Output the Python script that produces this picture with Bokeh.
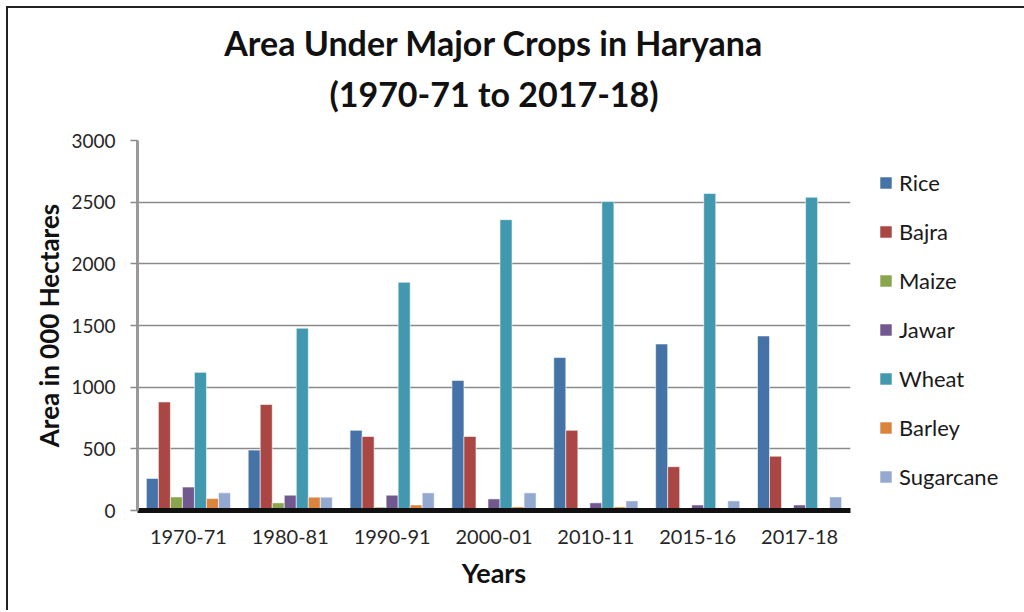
from bokeh.plotting import figure
from bokeh.models import FactorRange, Range1d, Title, Legend, LegendItem, ColumnDataSource
from bokeh.transform import dodge
from bokeh.embed import file_html
from bokeh.resources import INLINE

years = ["1970-71", "1980-81", "1990-91", "2000-01", "2010-11", "2015-16", "2017-18"]
crops = ["Rice", "Bajra", "Maize", "Jawar", "Wheat", "Barley", "Sugarcane"]
rice = [260, 490, 650, 1055, 1240, 1350, 1415]
bajra = [880, 860, 600, 600, 650, 355, 440]
maize = [110, 62, 27, 16, 16, 16, 16]
jawar = [190, 124, 124, 94, 62, 45, 45]
wheat = [1120, 1478, 1850, 2358, 2505, 2570, 2540]
barley = [97, 108, 45, 29, 29, 16, 16]
sugarcane = [143, 108, 143, 143, 78, 78, 110]
colors = ["#4572A7", "#AA4643", "#89A54E", "#71588F", "#4198AF", "#DB843D", "#93A9CF"]
yticks = [0, 500, 1000, 1500, 2000, 2500, 3000]
title_lines = ["Area Under Major Crops in Haryana", "(1970-71 to 2017-18)"]

FONT = "Lato"
data = dict(year=years, Rice=rice, Bajra=bajra, Maize=maize, Jawar=jawar,
            Wheat=wheat, Barley=barley, Sugarcane=sugarcane)
src = ColumnDataSource(data)

p = figure(frame_width=713, frame_height=370, x_range=FactorRange(*years, range_padding=0),
           y_range=Range1d(0, 3000), output_backend="svg", toolbar_location=None,
           min_border_left=129, min_border_right=174, min_border_top=132, min_border_bottom=100)
p.styles = {"border-top": "2px solid #222", "border-left": "2px solid #222",
            "margin-left": "6px", "margin-top": "6px"}
p.outline_line_color = None
p.background_fill_color = "white"

bw = 0.118
items = []
for i, c in enumerate(crops):
    r = p.vbar(x=dodge("year", (i - 3) * bw, range=p.x_range), top=c, width=bw, source=src,
               fill_color=colors[i], line_color="white", line_alpha=0.7, line_width=0.8)
    items.append(LegendItem(label=c, renderers=[r]))

p.xgrid.grid_line_color = None
p.ygrid.grid_line_color = "#8a8a8a"
p.ygrid.grid_line_width = 1.5
p.yaxis.ticker = yticks

p.yaxis.axis_line_color = "#9a9a9a"
p.yaxis.axis_line_width = 3
p.yaxis.major_tick_line_color = "#8a8a8a"
p.yaxis.major_tick_line_width = 1.5
p.yaxis.major_tick_out = 7
p.yaxis.major_tick_in = 0
p.yaxis.minor_tick_line_color = None
p.yaxis.major_label_text_font = FONT
p.yaxis.major_label_text_font_size = "19px"
p.yaxis.major_label_text_color = "#262626"
p.yaxis.major_label_standoff = 15
p.yaxis.axis_label = "Area in 000 Hectares"
p.yaxis.axis_label_text_font = FONT
p.yaxis.axis_label_text_font_style = "bold"
p.yaxis.axis_label_text_font_size = "26px"
p.yaxis.axis_label_text_color = "#111111"
p.yaxis.axis_label_standoff = 3

p.xaxis.axis_line_color = "#111111"
p.xaxis.axis_line_width = 5
p.xaxis.major_tick_line_color = None
p.xaxis.minor_tick_line_color = None
p.xaxis.major_label_text_font = FONT
p.xaxis.major_label_text_font_size = "20px"
p.xaxis.major_label_text_color = "#262626"
p.xaxis.major_label_standoff = 13
p.xaxis.axis_label = "Years"
p.xaxis.axis_label_text_font = FONT
p.xaxis.axis_label_text_font_style = "bold"
p.xaxis.axis_label_text_font_size = "27px"
p.xaxis.axis_label_text_color = "#111111"
p.xaxis.axis_label_standoff = 9

p.add_layout(Title(text=title_lines[1], align="center", text_font=FONT, text_font_style="bold",
                   text_font_size="34px", text_color="#111111", standoff=53), "above")
p.add_layout(Title(text=title_lines[0], align="center", text_font=FONT, text_font_style="bold",
                   text_font_size="34px", text_color="#111111", standoff=-37), "above")

legend = Legend(items=items, location="top_left", orientation="vertical",
                label_text_font=FONT, label_text_font_size="22px",
                label_text_color="#1a1a1a", glyph_width=15, glyph_height=15,
                label_height=28, spacing=21, padding=0, margin=28, label_standoff=6,
                border_line_color=None, background_fill_alpha=0)
p.add_layout(legend, "right")

open("out.html", "w").write(file_html(p, INLINE))
